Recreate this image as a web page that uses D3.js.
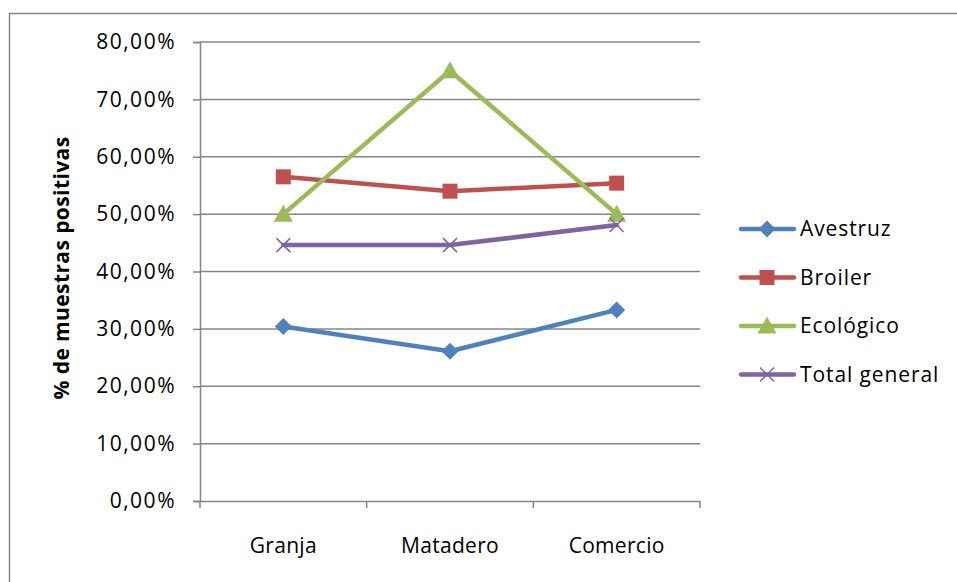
<!DOCTYPE html>
<html>
<head>
<meta charset="utf-8">
<script src="https://cdn.jsdelivr.net/npm/d3@7"></script>
<style>
  body { margin: 0; background: #fff; }
  text { font-family: "Open Sans", "Noto Sans", sans-serif; fill: #000; }
</style>
</head>
<body>
<div id="chart"></div>
<script>
var categories = ['Granja', 'Matadero', 'Comercio'];
var seriesNames = ['Avestruz', 'Broiler', 'Ecológico', 'Total general'];
var avestruz = [0.304, 0.261, 0.333];
var broiler = [0.565, 0.540, 0.554];
var ecologico = [0.50, 0.75, 0.50];
var totalGeneral = [0.446, 0.446, 0.481];
var yTicks = [0, 0.1, 0.2, 0.3, 0.4, 0.5, 0.6, 0.7, 0.8];

var width = 957,
    height = 582,
    margin = { left: 200, right: 257, top: 42, bottom: 81 },
    colors = ['#4F81BD', '#C0504D', '#9BBB59', '#8064A2'],
    shapes = ['diamond', 'square', 'triangle', 'x']
;

var series = [avestruz, broiler, ecologico, totalGeneral].map(function(v, i) {
    return { name: seriesNames[i], values: v, color: colors[i], shape: shapes[i] };
});

var svg = d3.select('#chart')
    .append('svg')
    .attr('width', width)
    .attr('height', height)
;

// chart frame
svg.append('rect')
    .attr('x', 9.5)
    .attr('y', 13.5)
    .attr('width', 960)
    .attr('height', 600)
    .attr('fill', 'none')
    .attr('stroke', '#868686')
    .attr('stroke-width', 1.5)
;

var x = d3.scaleBand()
    .domain(categories)
    .range([margin.left, width - margin.right])
;

var y = d3.scaleLinear()
    .domain([0, 0.8])
    .range([height - margin.bottom, margin.top])
;

var fmt = function(d) {
    return d3.format('.2f')(d * 100).replace('.', ',') + '%';
};

// gridlines
svg.append('g')
    .selectAll('line')
    .data(yTicks.slice(1))
    .enter()
    .append('line')
    .attr('x1', margin.left)
    .attr('x2', width - margin.right)
    .attr('y1', function(d) { return y(d); })
    .attr('y2', function(d) { return y(d); })
    .attr('stroke', '#868686')
    .attr('stroke-width', 1.5)
;

// y axis
var yAxis = svg.append('g')
    .attr('transform', 'translate(' + margin.left + ',0)')
    .call(d3.axisLeft(y).tickValues(yTicks).tickFormat(fmt).tickSize(7).tickPadding(17))
;

// x axis
var xAxis = svg.append('g')
    .attr('transform', 'translate(0,' + (height - margin.bottom) + ')')
    .call(d3.axisBottom(x).tickSize(0).tickPadding(37))
;

// x ticks between categories
svg.append('g')
    .selectAll('line')
    .data(d3.range(categories.length + 1))
    .enter()
    .append('line')
    .attr('x1', function(i) { return margin.left + i * x.step(); })
    .attr('x2', function(i) { return margin.left + i * x.step(); })
    .attr('y1', height - margin.bottom)
    .attr('y2', height - margin.bottom + 7)
    .attr('stroke', '#868686')
    .attr('stroke-width', 1.5)
;

svg.selectAll('.domain, .tick line')
    .attr('stroke', '#868686')
    .attr('stroke-width', 1.5)
;
yAxis.selectAll('.tick text')
    .style('font-size', '21px')
    .style('letter-spacing', '1.5px')
;
xAxis.selectAll('.tick text')
    .style('font-size', '21px')
    .style('letter-spacing', '0.3px')
;

// y title
svg.append('text')
    .attr('transform', 'translate(69,268) rotate(-90)')
    .attr('text-anchor', 'middle')
    .style('font-size', '21px')
    .style('font-weight', 'bold')
    .style('letter-spacing', '0.4px')
    .text('% de muestras positivas')
;

var line = d3.line()
    .x(function(d, i) { return x(categories[i]) + x.bandwidth() / 2; })
    .y(function(d) { return y(d); })
;

function drawMarker(g, shape, color) {
    if (shape === 'diamond') {
        g.append('path').attr('d', 'M0,-8.5L8.5,0L0,8.5L-8.5,0Z').attr('fill', color);
    } else if (shape === 'square') {
        g.append('rect').attr('x', -7.5).attr('y', -7.5).attr('width', 15).attr('height', 15).attr('fill', color);
    } else if (shape === 'triangle') {
        g.append('path').attr('d', 'M0,-9.5L9.5,7.5L-9.5,7.5Z').attr('fill', color);
    } else {
        g.append('path').attr('d', 'M-7,-7L7,7M-7,7L7,-7')
            .attr('stroke', color).attr('stroke-width', 1.5).attr('fill', 'none');
    }
}

series.forEach(function(s) {
    svg.append('path')
        .datum(s.values)
        .attr('d', line)
        .attr('fill', 'none')
        .attr('stroke', s.color)
        .attr('stroke-width', 4.5)
        .attr('stroke-linejoin', 'round')
        .attr('stroke-linecap', 'round')
    ;
    s.values.forEach(function(v, i) {
        var g = svg.append('g')
            .attr('transform', 'translate(' + (x(categories[i]) + x.bandwidth() / 2) + ',' + y(v) + ')');
        drawMarker(g, s.shape, s.color);
    });
});

// legend
var legend = svg.append('g')
    .selectAll('g')
    .data(series)
    .enter()
    .append('g')
    .attr('transform', function(d, i) { return 'translate(741,' + (229 + i * 48.5) + ')'; })
;

legend.append('line')
    .attr('x1', 0)
    .attr('x2', 53)
    .attr('stroke', function(d) { return d.color; })
    .attr('stroke-width', 4.5)
    .attr('stroke-linecap', 'round')
;

legend.each(function(d) {
    var g = d3.select(this).append('g').attr('transform', 'translate(26,0)');
    drawMarker(g, d.shape, d.color);
});

legend.append('text')
    .attr('x', 59)
    .attr('dy', '0.35em')
    .style('font-size', '21px')
    .style('letter-spacing', '0.9px')
    .text(function(d) { return d.name; })
;
</script>
</body>
</html>
